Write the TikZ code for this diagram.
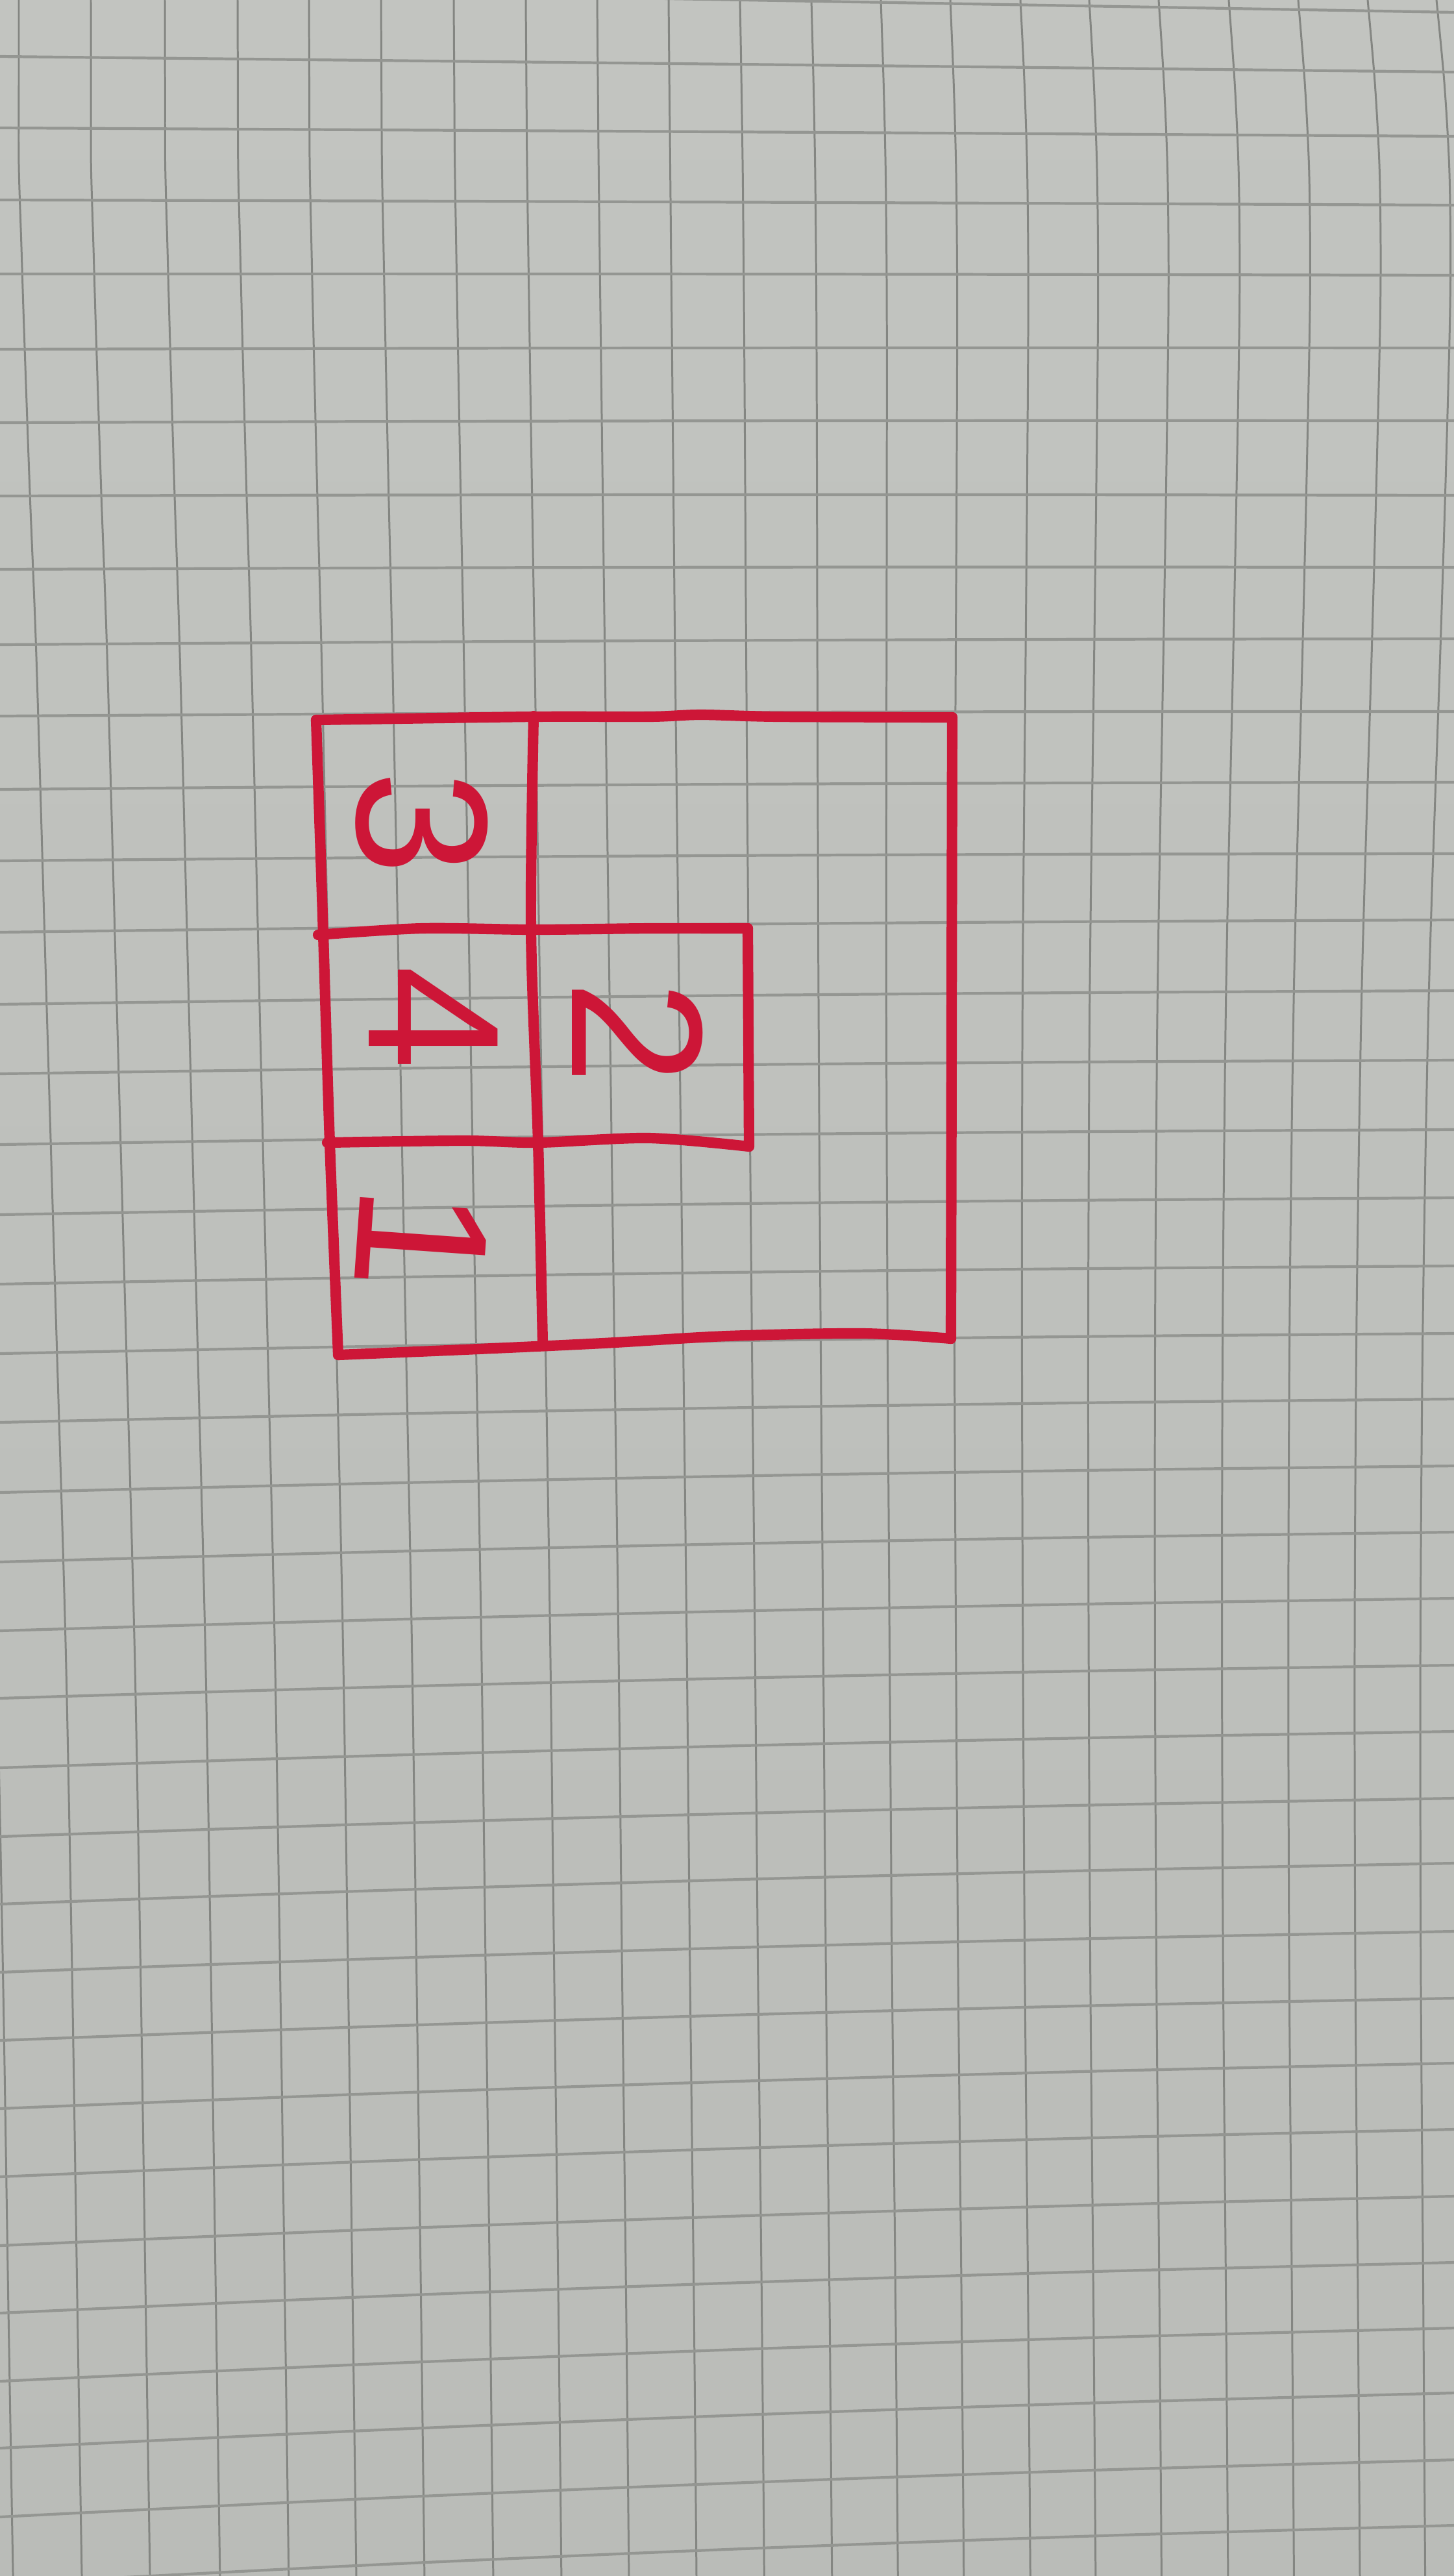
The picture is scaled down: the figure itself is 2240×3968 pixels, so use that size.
\documentclass[tikz,border=0pt]{standalone}
\usepackage{fontspec}
\newfontfamily\handfont{Liberation Sans}
\definecolor{paperTop}{RGB}{194,196,192}
\definecolor{paperMid}{RGB}{220,221,216}
\definecolor{paperBot}{RGB}{186,188,184}
\definecolor{gridV}{RGB}{132,134,130}
\definecolor{gridH}{RGB}{148,150,146}
\definecolor{marker}{RGB}{205,22,55}
\begin{document}
\begin{tikzpicture}[x=0.01cm,y=-0.01cm,
  vline/.style={draw=gridV,line width=0.85pt},
  hline/.style={draw=gridH,line width=1.2pt},
  pen/.style={draw=marker,line width=4.6pt,line cap=round,line join=round},
  digit/.style={text=marker,font=\handfont\fontsize{82}{82}\selectfont,inner sep=0pt,rotate=-90}]
\useasboundingbox (0,0) rectangle (2240,3968);
\shade[top color=paperTop,middle color=paperMid,bottom color=paperBot] (0,0) rectangle (2240,3968);
\begin{scope}
\clip (0,0) rectangle (2240,3968);
% vertical grid lines (curved paper)
\foreach \xo in {-83,29,140,254,366,476,587,699,810,920,1030,1140,1250,1357,1464,1572,1678,1785,1893,2000,2107,2213} {
  \pgfmathsetmacro\wl{max(0,(1030-\xo)/1000)}
  \pgfmathsetmacro\wr{max(0,(\xo-1030)/1077)}
  \pgfmathsetmacro\wm{1-\wl-\wr}
  \draw[vline] plot[smooth,tension=0.5] coordinates {
    (\xo,0)
    ({\xo+\wm*1.2+\wr*11},126)
    ({\xo+\wm*2.5+\wr*18},253)
    ({\xo+\wl*4+\wm*3.7+\wr*20},380)
    ({\xo+\wl*8+\wm*5+\wr*19},506)
    ({\xo+\wl*17+\wm*7.5+\wr*13},759)
    ({\xo+\wl*27+\wm*10+\wr*6},1012)
    ({\xo+\wl*42+\wm*16-\wr*9},1519)
    ({\xo+\wl*57+\wm*22-\wr*17},2025)
    ({\xo+\wl*72+\wm*28-\wr*20},2531)
    ({\xo+\wl*82+\wm*33-\wr*19},3038)
    ({\xo+\wl*90+\wm*39-\wr*15},3544)
    ({\xo+\wl*97+\wm*43-\wr*12},3968)};
}
% horizontal grid lines
\foreach \yl/\yr in {-20/19,87/111,197/210,308/316,422/424,538/536,651/648,764/763,877/874,993/984,1103/1096,1216/1205,1326/1315,1436/1417,1547/1526,1654/1633,1763/1740,1871/1845,1978/1950,2085/2054,2191/2155,2299/2258,2406/2360,2512/2462,2616/2565,2723/2667,2829/2770,2933/2870,3038/2975,3143/3078,3248/3178,3353/3280,3459/3383,3563/3485,3668/3586,3771/3686,3877/3789,3980/3890} {
  \pgfmathsetmacro\bw{\yl/3968*8}
  \pgfmathsetmacro\ya{\yl+0.25*(\yr-\yl)-0.75*\bw}
  \pgfmathsetmacro\yb{0.5*\yl+0.5*\yr-\bw}
  \pgfmathsetmacro\yc{\yl+0.75*(\yr-\yl)-0.75*\bw}
  \draw[hline] plot[smooth] coordinates {
    (0,\yl) (560,\ya) (1120,\yb) (1680,\yc) (2240,\yr)};
}
\end{scope}
% red drawing
\coordinate (TL) at (487,1109);
\coordinate (TR) at (1467,1105);
\coordinate (BR) at (1465,2062);
\coordinate (BL) at (521,2087);
\coordinate (DT) at (822,1103);
\coordinate (DB) at (836,2068);
\coordinate (H1L) at (490,1440);
\coordinate (H1R) at (1152,1430);
\coordinate (H2L) at (504,1760);
\coordinate (H2R) at (1154,1766);
\draw[pen] plot[smooth] coordinates {(TL) (822,1104) (1000,1104) (1080,1101) (1200,1104) (TR)};
\draw[pen] (TR) -- (BR);
\draw[pen] plot[smooth] coordinates {(BL) (714,2079) (929,2069) (1120,2058) (1330,2054) (BR)};
\draw[pen] plot[smooth] coordinates {(TL) (498,1440) (508,1760) (BL)};
\draw[pen] plot[smooth] coordinates {(DT) (818,1432) (829,1760) (DB)};
\draw[pen] plot[smooth] coordinates {(H1L) (650,1430) (822,1432) (1000,1430) (H1R)};
\draw[pen] (H1R) -- (H2R);
\draw[pen] plot[smooth] coordinates {(H2L) (714,1757) (829,1760) (1000,1753) (H2R)};
% digits
\node[digit] (n3) at (650,1268) {3};
\node[digit] (n4) at (668,1568) {4};
\node[digit] (n2) at (982,1591) {2};
\node[digit,rotate=-4] (n1) at (650,1909) {1};
\end{tikzpicture}
\end{document}
